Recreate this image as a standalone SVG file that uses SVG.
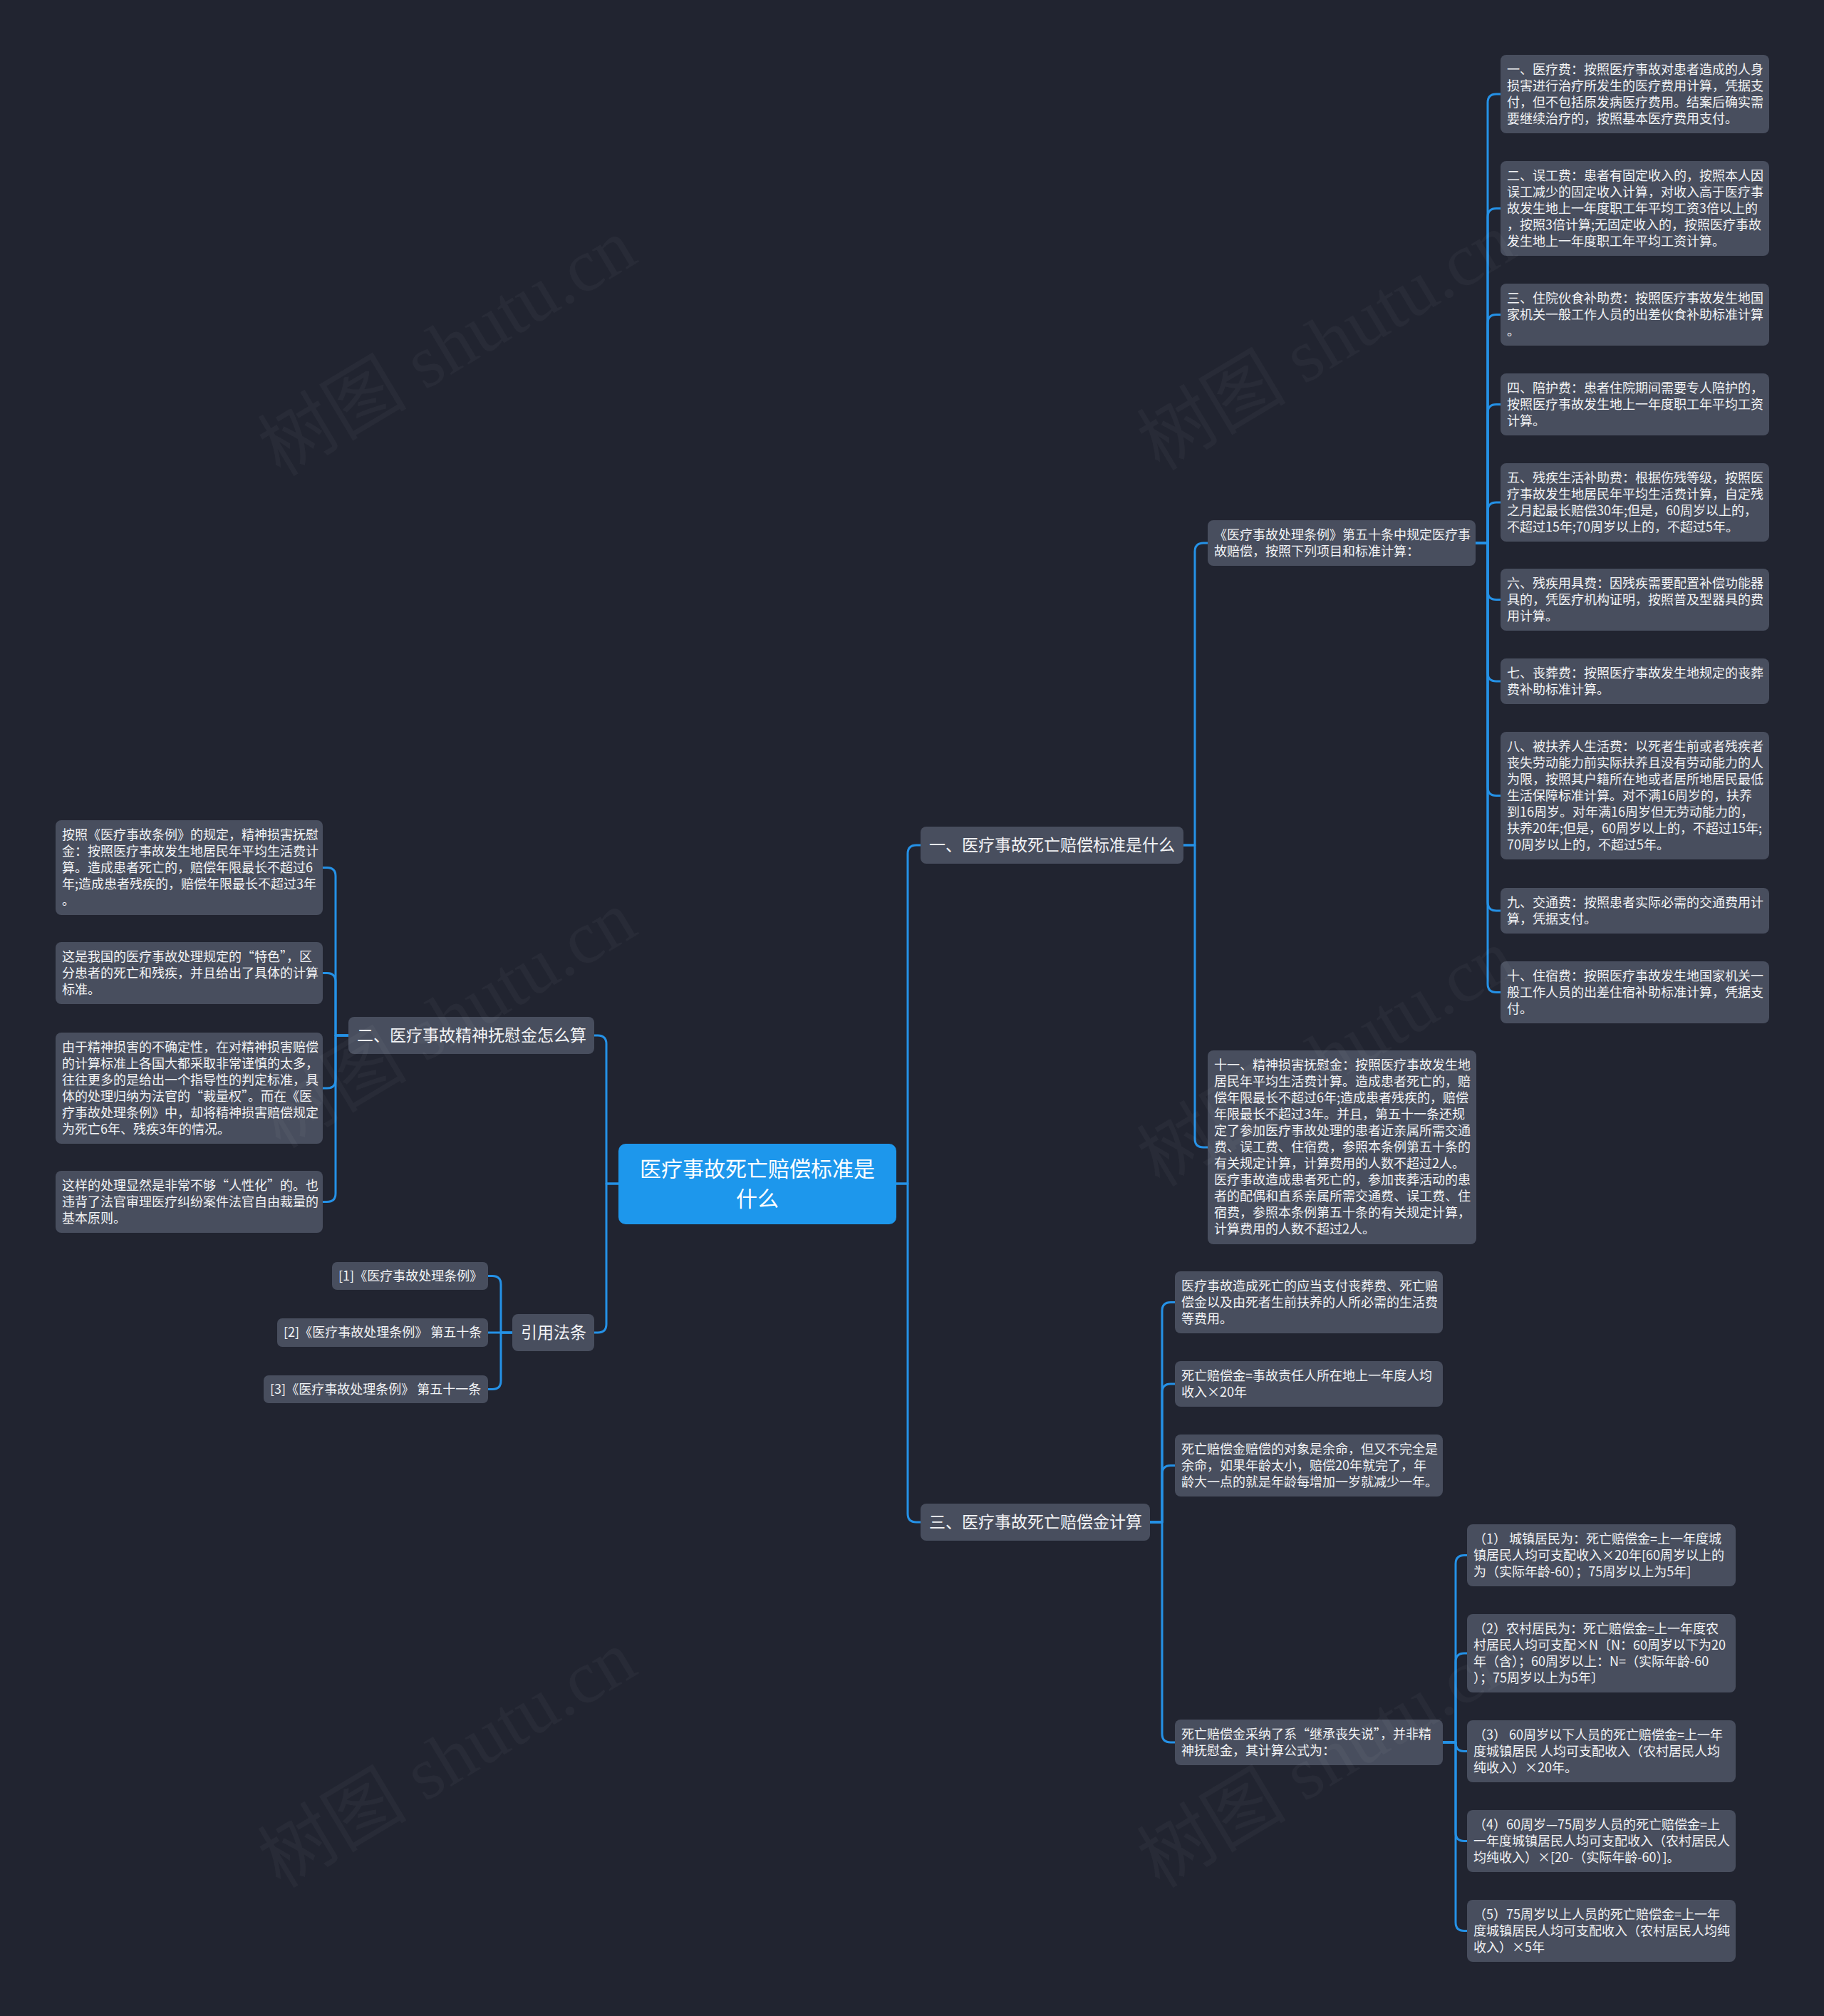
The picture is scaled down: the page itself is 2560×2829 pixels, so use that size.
<svg xmlns="http://www.w3.org/2000/svg" width="2560" height="2829" viewBox="0 0 2560 2829">
<style>
.bg{fill:#212430}
.nd{fill:#484e5e}
.ct{fill:#1d97ec}
.t{font-family:"Noto Sans CJK SC","Noto Sans",sans-serif;font-size:18px;fill:#f2f3f5}
.b{font-family:"Noto Sans CJK SC","Noto Sans",sans-serif;font-size:23px;fill:#f2f3f5}
.c{font-family:"Noto Sans CJK SC","Noto Sans",sans-serif;font-size:30px;fill:#ffffff;text-anchor:middle}
.lk{fill:none;stroke:#2591e6;stroke-width:3;stroke-linecap:round;stroke-linejoin:round}
.wm{font-family:"Liberation Serif","Noto Sans CJK SC",serif;font-size:105px;fill:#ffffff;fill-opacity:0.035}
</style>
<rect class="bg" x="0" y="0" width="2560" height="2829"/>

<g id="connectors">
<path class="lk" d="M1258,1661 H1274 V1198 Q1274,1186 1286,1186 H1292"/>
<path class="lk" d="M1258,1661 H1274 V2124 Q1274,2136 1286,2136 H1292"/>
<path class="lk" d="M868,1661 H851 V1465 Q851,1453 839,1453 H834"/>
<path class="lk" d="M868,1661 H851 V1858 Q851,1870 839,1870 H834"/>
<path class="lk" d="M1661,1186 H1677 V774 Q1677,762 1689,762 H1695"/>
<path class="lk" d="M1661,1186 H1677 V1598 Q1677,1610 1689,1610 H1695"/>
<path class="lk" d="M2071,762 H2088 V144 Q2088,132 2100,132 H2106"/>
<path class="lk" d="M2071,762 H2088 V304.5 Q2088,292.5 2100,292.5 H2106"/>
<path class="lk" d="M2071,762 H2088 V453.5 Q2088,441.5 2100,441.5 H2106"/>
<path class="lk" d="M2071,762 H2088 V579.5 Q2088,567.5 2100,567.5 H2106"/>
<path class="lk" d="M2071,762 H2088 V717 Q2088,705 2100,705 H2106"/>
<path class="lk" d="M2071,762 H2088 V829.5 Q2088,841.5 2100,841.5 H2106"/>
<path class="lk" d="M2071,762 H2088 V944 Q2088,956 2100,956 H2106"/>
<path class="lk" d="M2071,762 H2088 V1104.5 Q2088,1116.5 2100,1116.5 H2106"/>
<path class="lk" d="M2071,762 H2088 V1266 Q2088,1278 2100,1278 H2106"/>
<path class="lk" d="M2071,762 H2088 V1380.5 Q2088,1392.5 2100,1392.5 H2106"/>
<path class="lk" d="M1614,2136 H1631 V1839.5 Q1631,1827.5 1643,1827.5 H1649"/>
<path class="lk" d="M1614,2136 H1631 V1954 Q1631,1942 1643,1942 H1649"/>
<path class="lk" d="M1614,2136 H1631 V2068.5 Q1631,2056.5 1643,2056.5 H1649"/>
<path class="lk" d="M1614,2136 H1631 V2433 Q1631,2445 1643,2445 H1649"/>
<path class="lk" d="M2025,2445 H2043 V2194.5 Q2043,2182.5 2055,2182.5 H2059"/>
<path class="lk" d="M2025,2445 H2043 V2332 Q2043,2320 2055,2320 H2059"/>
<path class="lk" d="M2025,2445 H2043 V2445.5 Q2043,2457.5 2055,2457.5 H2059"/>
<path class="lk" d="M2025,2445 H2043 V2571.5 Q2043,2583.5 2055,2583.5 H2059"/>
<path class="lk" d="M2025,2445 H2043 V2697.5 Q2043,2709.5 2055,2709.5 H2059"/>
<path class="lk" d="M489,1453 H471 V1229.5 Q471,1217.5 459,1217.5 H453"/>
<path class="lk" d="M489,1453 H471 V1377.5 Q471,1365.5 459,1365.5 H453"/>
<path class="lk" d="M489,1453 H471 V1515 Q471,1527 459,1527 H453"/>
<path class="lk" d="M489,1453 H471 V1674.5 Q471,1686.5 459,1686.5 H453"/>
<path class="lk" d="M719,1870 H703 V1802.5 Q703,1790.5 691,1790.5 H685"/>
<path class="lk" d="M719,1870 H685"/>
<path class="lk" d="M719,1870 H703 V1937.5 Q703,1949.5 691,1949.5 H685"/>
</g>

<g id="root">
<rect class="ct" x="868" y="1605" width="390" height="113" rx="10"/>
<text class="c"><tspan x="1063" y="1651">医疗事故死亡赔偿标准是</tspan><tspan x="1063" y="1693">什么</tspan></text>
</g>

<g id="b1">
<rect class="nd" x="1292" y="1160" width="369" height="52" rx="8"/>
<text class="b" x="1304" y="1194">一、医疗事故死亡赔偿标准是什么</text>
</g>
<g id="b2">
<rect class="nd" x="489" y="1427" width="345" height="52" rx="8"/>
<text class="b" x="501" y="1461">二、医疗事故精神抚慰金怎么算</text>
</g>
<g id="b3">
<rect class="nd" x="1292" y="2110" width="322" height="52" rx="8"/>
<text class="b" x="1304" y="2144">三、医疗事故死亡赔偿金计算</text>
</g>
<g id="b4">
<rect class="nd" x="719" y="1844" width="115" height="52" rx="8"/>
<text class="b" x="731" y="1878">引用法条</text>
</g>

<g id="n-tiaoli">
<rect class="nd" x="1695" y="730" width="376" height="64" rx="8"/>
<text class="t"><tspan x="1704" y="757">《医疗事故处理条例》第五十条中规定医疗事</tspan><tspan x="1704" y="780">故赔偿，按照下列项目和标准计算：</tspan></text>
</g>
<g id="n-11">
<rect class="nd" x="1695" y="1474" width="377" height="272" rx="8"/>
<text class="t"><tspan x="1704" y="1501">十一、精神损害抚慰金：按照医疗事故发生地</tspan><tspan x="1704" y="1524">居民年平均生活费计算。造成患者死亡的，赔</tspan><tspan x="1704" y="1547">偿年限最长不超过6年;造成患者残疾的，赔偿</tspan><tspan x="1704" y="1570">年限最长不超过3年。并且，第五十一条还规</tspan><tspan x="1704" y="1593">定了参加医疗事故处理的患者近亲属所需交通</tspan><tspan x="1704" y="1616">费、误工费、住宿费，参照本条例第五十条的</tspan><tspan x="1704" y="1639">有关规定计算，计算费用的人数不超过2人。</tspan><tspan x="1704" y="1662">医疗事故造成患者死亡的，参加丧葬活动的患</tspan><tspan x="1704" y="1685">者的配偶和直系亲属所需交通费、误工费、住</tspan><tspan x="1704" y="1708">宿费，参照本条例第五十条的有关规定计算，</tspan><tspan x="1704" y="1731">计算费用的人数不超过2人。</tspan></text>
</g>

<g id="r1">
<rect class="nd" x="2106" y="77" width="377" height="110" rx="8"/>
<text class="t"><tspan x="2115" y="104">一、医疗费：按照医疗事故对患者造成的人身</tspan><tspan x="2115" y="127">损害进行治疗所发生的医疗费用计算，凭据支</tspan><tspan x="2115" y="150">付，但不包括原发病医疗费用。结案后确实需</tspan><tspan x="2115" y="173">要继续治疗的，按照基本医疗费用支付。</tspan></text>
</g>
<g id="r2">
<rect class="nd" x="2106" y="226" width="377" height="133" rx="8"/>
<text class="t"><tspan x="2115" y="253">二、误工费：患者有固定收入的，按照本人因</tspan><tspan x="2115" y="276">误工减少的固定收入计算，对收入高于医疗事</tspan><tspan x="2115" y="299">故发生地上一年度职工年平均工资3倍以上的</tspan><tspan x="2115" y="322">，按照3倍计算;无固定收入的，按照医疗事故</tspan><tspan x="2115" y="345">发生地上一年度职工年平均工资计算。</tspan></text>
</g>
<g id="r3">
<rect class="nd" x="2106" y="398" width="377" height="87" rx="8"/>
<text class="t"><tspan x="2115" y="425">三、住院伙食补助费：按照医疗事故发生地国</tspan><tspan x="2115" y="448">家机关一般工作人员的出差伙食补助标准计算</tspan><tspan x="2115" y="471">。</tspan></text>
</g>
<g id="r4">
<rect class="nd" x="2106" y="524" width="377" height="87" rx="8"/>
<text class="t"><tspan x="2115" y="551">四、陪护费：患者住院期间需要专人陪护的，</tspan><tspan x="2115" y="574">按照医疗事故发生地上一年度职工年平均工资</tspan><tspan x="2115" y="597">计算。</tspan></text>
</g>
<g id="r5">
<rect class="nd" x="2106" y="650" width="377" height="110" rx="8"/>
<text class="t"><tspan x="2115" y="677">五、残疾生活补助费：根据伤残等级，按照医</tspan><tspan x="2115" y="700">疗事故发生地居民年平均生活费计算，自定残</tspan><tspan x="2115" y="723">之月起最长赔偿30年;但是，60周岁以上的，</tspan><tspan x="2115" y="746">不超过15年;70周岁以上的，不超过5年。</tspan></text>
</g>
<g id="r6">
<rect class="nd" x="2106" y="798" width="377" height="87" rx="8"/>
<text class="t"><tspan x="2115" y="825">六、残疾用具费：因残疾需要配置补偿功能器</tspan><tspan x="2115" y="848">具的，凭医疗机构证明，按照普及型器具的费</tspan><tspan x="2115" y="871">用计算。</tspan></text>
</g>
<g id="r7">
<rect class="nd" x="2106" y="924" width="377" height="64" rx="8"/>
<text class="t"><tspan x="2115" y="951">七、丧葬费：按照医疗事故发生地规定的丧葬</tspan><tspan x="2115" y="974">费补助标准计算。</tspan></text>
</g>
<g id="r8">
<rect class="nd" x="2106" y="1027" width="377" height="179" rx="8"/>
<text class="t"><tspan x="2115" y="1054">八、被扶养人生活费：以死者生前或者残疾者</tspan><tspan x="2115" y="1077">丧失劳动能力前实际扶养且没有劳动能力的人</tspan><tspan x="2115" y="1100">为限，按照其户籍所在地或者居所地居民最低</tspan><tspan x="2115" y="1123">生活保障标准计算。对不满16周岁的，扶养</tspan><tspan x="2115" y="1146">到16周岁。对年满16周岁但无劳动能力的，</tspan><tspan x="2115" y="1169">扶养20年;但是，60周岁以上的，不超过15年;</tspan><tspan x="2115" y="1192">70周岁以上的，不超过5年。</tspan></text>
</g>
<g id="r9">
<rect class="nd" x="2106" y="1246" width="377" height="64" rx="8"/>
<text class="t"><tspan x="2115" y="1273">九、交通费：按照患者实际必需的交通费用计</tspan><tspan x="2115" y="1296">算，凭据支付。</tspan></text>
</g>
<g id="r10">
<rect class="nd" x="2106" y="1349" width="377" height="87" rx="8"/>
<text class="t"><tspan x="2115" y="1376">十、住宿费：按照医疗事故发生地国家机关一</tspan><tspan x="2115" y="1399">般工作人员的出差住宿补助标准计算，凭据支</tspan><tspan x="2115" y="1422">付。</tspan></text>
</g>

<g id="l1">
<rect class="nd" x="78" y="1151" width="375" height="133" rx="8"/>
<text class="t"><tspan x="87" y="1178">按照《医疗事故条例》的规定，精神损害抚慰</tspan><tspan x="87" y="1201">金：按照医疗事故发生地居民年平均生活费计</tspan><tspan x="87" y="1224">算。造成患者死亡的，赔偿年限最长不超过6</tspan><tspan x="87" y="1247">年;造成患者残疾的，赔偿年限最长不超过3年</tspan><tspan x="87" y="1270">。</tspan></text>
</g>
<g id="l2">
<rect class="nd" x="78" y="1322" width="375" height="87" rx="8"/>
<text class="t"><tspan x="87" y="1349">这是我国的医疗事故处理规定的“特色”，区</tspan><tspan x="87" y="1372">分患者的死亡和残疾，并且给出了具体的计算</tspan><tspan x="87" y="1395">标准。</tspan></text>
</g>
<g id="l3">
<rect class="nd" x="78" y="1449" width="375" height="156" rx="8"/>
<text class="t"><tspan x="87" y="1476">由于精神损害的不确定性，在对精神损害赔偿</tspan><tspan x="87" y="1499">的计算标准上各国大都采取非常谨慎的太多，</tspan><tspan x="87" y="1522">往往更多的是给出一个指导性的判定标准，具</tspan><tspan x="87" y="1545">体的处理归纳为法官的“裁量权”。而在《医</tspan><tspan x="87" y="1568">疗事故处理条例》中，却将精神损害赔偿规定</tspan><tspan x="87" y="1591">为死亡6年、残疾3年的情况。</tspan></text>
</g>
<g id="l4">
<rect class="nd" x="78" y="1643" width="375" height="87" rx="8"/>
<text class="t"><tspan x="87" y="1670">这样的处理显然是非常不够“人性化”的。也</tspan><tspan x="87" y="1693">违背了法官审理医疗纠纷案件法官自由裁量的</tspan><tspan x="87" y="1716">基本原则。</tspan></text>
</g>

<g id="cite1">
<rect class="nd" x="466" y="1771" width="219" height="39" rx="7"/>
<text class="t" x="475" y="1797">[1]《医疗事故处理条例》</text>
</g>
<g id="cite2">
<rect class="nd" x="389" y="1850" width="296" height="40" rx="7"/>
<text class="t" x="398" y="1876">[2]《医疗事故处理条例》 第五十条</text>
</g>
<g id="cite3">
<rect class="nd" x="370" y="1930" width="315" height="39" rx="7"/>
<text class="t" x="379" y="1956">[3]《医疗事故处理条例》 第五十一条</text>
</g>

<g id="m1">
<rect class="nd" x="1649" y="1784" width="376" height="87" rx="8"/>
<text class="t"><tspan x="1658" y="1811">医疗事故造成死亡的应当支付丧葬费、死亡赔</tspan><tspan x="1658" y="1834">偿金以及由死者生前扶养的人所必需的生活费</tspan><tspan x="1658" y="1857">等费用。</tspan></text>
</g>
<g id="m2">
<rect class="nd" x="1649" y="1910" width="376" height="64" rx="8"/>
<text class="t"><tspan x="1658" y="1937">死亡赔偿金=事故责任人所在地上一年度人均</tspan><tspan x="1658" y="1960">收入×20年</tspan></text>
</g>
<g id="m3">
<rect class="nd" x="1649" y="2013" width="376" height="87" rx="8"/>
<text class="t"><tspan x="1658" y="2040">死亡赔偿金赔偿的对象是余命，但又不完全是</tspan><tspan x="1658" y="2063">余命，如果年龄太小，赔偿20年就完了，年</tspan><tspan x="1658" y="2086">龄大一点的就是年龄每增加一岁就减少一年。</tspan></text>
</g>
<g id="m4">
<rect class="nd" x="1649" y="2413" width="376" height="64" rx="8"/>
<text class="t"><tspan x="1658" y="2440">死亡赔偿金采纳了系“继承丧失说”，并非精</tspan><tspan x="1658" y="2463">神抚慰金，其计算公式为：</tspan></text>
</g>

<g id="e1">
<rect class="nd" x="2059" y="2139" width="377" height="87" rx="8"/>
<text class="t"><tspan x="2068" y="2166">（1） 城镇居民为：死亡赔偿金=上一年度城</tspan><tspan x="2068" y="2189">镇居民人均可支配收入×20年[60周岁以上的</tspan><tspan x="2068" y="2212">为（实际年龄-60）；75周岁以上为5年]</tspan></text>
</g>
<g id="e2">
<rect class="nd" x="2059" y="2265" width="377" height="110" rx="8"/>
<text class="t"><tspan x="2068" y="2292">（2）农村居民为：死亡赔偿金=上一年度农</tspan><tspan x="2068" y="2315">村居民人均可支配×N〔N：60周岁以下为20</tspan><tspan x="2068" y="2338">年（含）；60周岁以上：N=（实际年龄-60</tspan><tspan x="2068" y="2361">）；75周岁以上为5年〕</tspan></text>
</g>
<g id="e3">
<rect class="nd" x="2059" y="2414" width="377" height="87" rx="8"/>
<text class="t"><tspan x="2068" y="2441">（3） 60周岁以下人员的死亡赔偿金=上一年</tspan><tspan x="2068" y="2464">度城镇居民 人均可支配收入（农村居民人均</tspan><tspan x="2068" y="2487">纯收入）×20年。</tspan></text>
</g>
<g id="e4">
<rect class="nd" x="2059" y="2540" width="377" height="87" rx="8"/>
<text class="t"><tspan x="2068" y="2567">（4）60周岁—75周岁人员的死亡赔偿金=上</tspan><tspan x="2068" y="2590">一年度城镇居民人均可支配收入（农村居民人</tspan><tspan x="2068" y="2613">均纯收入）×[20-（实际年龄-60）]。</tspan></text>
</g>
<g id="e5">
<rect class="nd" x="2059" y="2666" width="377" height="87" rx="8"/>
<text class="t"><tspan x="2068" y="2693">（5）75周岁以上人员的死亡赔偿金=上一年</tspan><tspan x="2068" y="2716">度城镇居民人均可支配收入（农村居民人均纯</tspan><tspan x="2068" y="2739">收入）×5年</tspan></text>
</g>

<g id="watermark">
<text class="wm" text-anchor="middle" transform="translate(646,518) rotate(-31)">树图 shutu.cn</text>
<text class="wm" text-anchor="middle" transform="translate(646,1461) rotate(-31)">树图 shutu.cn</text>
<text class="wm" text-anchor="middle" transform="translate(646,2499) rotate(-31)">树图 shutu.cn</text>
<text class="wm" text-anchor="middle" transform="translate(1880,510) rotate(-31)">树图 shutu.cn</text>
<text class="wm" text-anchor="middle" transform="translate(1880,1515) rotate(-31)">树图 shutu.cn</text>
<text class="wm" text-anchor="middle" transform="translate(1880,2499) rotate(-31)">树图 shutu.cn</text>
</g>
</svg>
